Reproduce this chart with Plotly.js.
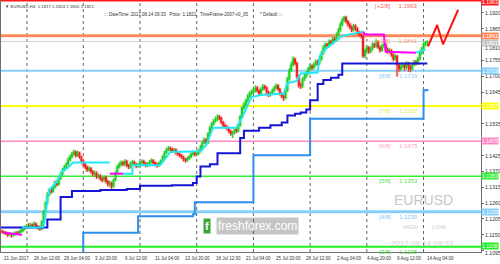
<!DOCTYPE html>
<html><head><meta charset="utf-8">
<script src="https://cdn.plot.ly/plotly-3.0.1.min.js"></script>
<style>html,body{margin:0;padding:0;background:#fff}#chart{width:500px;height:264px}</style>
</head><body><div id="chart"></div>
<script>
// ---- data (prices in pips above 1.1000) ----
const opens = [162,160,158,155,150,153,148,152,157,155,160,163,170,175,180,178,185,182,188,180,175,170,195,230,260,290,305,300,315,330,325,345,360,375,385,395,410,420,430,438,425,435,420,405,395,385,375,380,370,360,365,350,355,345,340,350,335,325,330,318,340,365,385,395,400,395,405,390,385,398,402,395,388,392,400,405,398,390,395,402,408,400,395,390,398,405,420,435,445,450,448,440,445,435,430,425,420,412,408,415,420,430,435,428,432,440,455,470,480,470,500,520,535,545,550,560,555,540,530,525,520,510,500,505,515,510,530,560,590,600,615,630,640,645,650,660,650,640,655,665,660,645,635,640,650,660,668,655,640,630,625,650,690,720,740,760,745,700,670,665,690,700,710,725,735,730,740,750,745,760,780,800,810,805,820,815,830,825,845,860,880,895,905,890,880,870,860,875,865,850,845,840,770,790,800,785,795,810,805,820,800,790,805,810,795,785,790,775,760,770,740,725,735,740,730,745,735,725,740,750,745,760,780,795,810,817];
const closes = [160,158,155,150,153,148,152,157,155,160,163,170,175,180,178,185,182,188,180,175,170,195,230,260,290,305,300,315,330,325,345,360,375,385,395,410,420,430,438,425,435,420,405,395,385,375,380,370,360,365,350,355,345,340,350,335,325,330,318,340,365,385,395,400,395,405,390,385,398,402,395,388,392,400,405,398,390,395,402,408,400,395,390,398,405,420,435,445,450,448,440,445,435,430,425,420,412,408,415,420,430,435,428,432,440,455,470,480,470,500,520,535,545,550,560,555,540,530,525,520,510,500,505,515,510,530,560,590,600,615,630,640,645,650,660,650,640,655,665,660,645,635,640,650,660,668,655,640,630,625,650,690,720,740,760,745,700,670,665,690,700,710,725,735,730,740,750,745,760,780,800,810,805,820,815,830,825,845,860,880,895,905,890,880,870,860,875,865,850,845,840,770,790,800,785,795,810,805,820,800,790,805,810,795,785,790,775,760,770,740,725,735,740,730,745,735,725,740,750,745,760,780,795,810,817,821];
const highs = [168,164,161,158,159,156,157,162,163,166,170,176,181,187,190,192,189,196,192,184,179,200,236,266,298,312,315,322,338,340,352,368,382,392,402,418,428,438,445,442,441,438,424,410,400,390,388,385,375,372,370,362,360,350,356,354,340,338,334,345,370,392,402,408,406,412,410,396,404,410,407,399,398,406,412,410,402,401,409,415,412,405,399,404,411,426,441,452,458,456,452,451,449,440,434,430,424,416,421,426,436,442,440,438,447,462,477,488,485,506,528,542,552,560,568,566,559,545,536,530,524,514,510,520,522,536,566,596,610,622,638,648,654,660,668,666,655,662,673,671,664,650,646,657,666,675,672,660,645,636,656,698,728,750,769,765,750,705,678,696,708,718,732,742,741,748,758,757,768,788,808,818,816,828,826,838,836,852,868,888,902,910,908,895,886,876,882,880,870,858,852,845,796,808,805,802,818,816,828,824,806,812,818,814,800,797,794,780,777,774,745,742,748,745,752,750,740,746,757,756,766,788,802,818,822,824];
const lows = [154,152,149,143,146,140,144,148,150,151,156,160,166,171,172,174,176,178,175,168,164,167,190,225,254,284,292,296,310,318,320,340,355,370,380,390,404,415,425,418,420,414,398,388,378,368,370,363,352,355,344,346,338,332,335,328,318,315,309,314,336,360,380,388,388,390,384,378,380,393,389,381,383,387,396,392,384,385,390,398,394,388,383,386,394,401,416,430,440,441,434,435,428,423,418,414,405,400,403,410,416,425,422,423,427,436,450,465,462,466,495,514,530,540,545,548,534,523,518,512,503,494,486,499,503,506,525,555,584,594,610,624,634,638,644,644,632,636,650,653,638,628,630,636,645,655,650,634,624,615,620,646,685,715,735,738,692,660,656,660,684,694,705,720,722,724,735,738,740,755,775,794,797,800,808,810,818,820,840,855,875,890,884,873,864,853,856,858,844,838,832,765,762,784,778,780,790,798,800,795,783,786,800,788,778,780,768,752,755,698,716,718,728,718,725,716,714,720,735,738,740,755,775,790,804,805];

// indicator lines (bar index, price)
const trendUpIdx1 = [10.6,20,22,23,24,25.4,27,29,30.7,32,34.4,36,37.6,57];
const trendUpPx1  = [1.1175,1.1175,1.1178,1.1217,1.1277,1.1309,1.1320,1.1334,1.1355,1.1373,1.1380,1.1391,1.1401,1.1401];
const trendDnIdx1 = [1,10.6];
const trendDnPx1  = [1.1157,1.1150];
const trendDnIdx2 = [57,64];
const trendDnPx2  = [1.1362,1.1362];
const trendUpIdx2 = [64,69,69,83.6,89,105,108,111.6,122,124,127,132,137,149,151,156,158,167,168,172,176,180,191];
const trendUpPx2  = [1.1362,1.1362,1.1391,1.1391,1.1437,1.1440,1.1461,1.1521,1.1521,1.1521,1.1557,1.1628,1.1635,1.1640,1.1676,1.1684,1.1710,1.1713,1.1769,1.1800,1.1820,1.1840,1.1855];
const trendDnIdx3 = [191,192,202,203,219];
const trendDnPx3  = [1.1855,1.1845,1.1845,1.1785,1.1782];
const trendUpIdx3 = [219,224];
const trendUpPx3  = [1.1782,1.1793];

const donchFastIdx = [-1,24,31,37,52,66,73,90,101,103,105,110,114,126,128,136,142,148,151,155,158,161,163,167,170,174,178,180,225];
const donchFastPx  = [1.1175,1.1203,1.1281,1.1302,1.1305,1.1309,1.1320,1.1322,1.1330,1.1352,1.1387,1.1395,1.1433,1.1486,1.1511,1.1521,1.1530,1.1540,1.1564,1.1570,1.1574,1.1585,1.1617,1.1673,1.1687,1.1695,1.1705,1.1744,1.1744];
const donchSlowIdx = [43,43,72,101,102,133,163,222,223,225];
const donchSlowPx  = [1.1070,1.1157,1.1214,1.1221,1.1263,1.1426,1.1553,1.1553,1.1652,1.1656];

const forecastIdx = [225.4,230.2,233.3,241.3];
const forecastPx  = [1.1804,1.1878,1.1811,1.1931];

// Murrey levels
const levelNames  = ['[+2/8]','[+1/8]','[8/8]','[7/8]','[6/8]','[5/8]','[4/8]','[3/8]'];
const levelPrices = [1.1963,1.1841,1.1719,1.1597,1.1475,1.1353,1.1230,1.1108];
const currentPrice = 1.1821;

// axes
const yTicks = [1.1920,1.1865,1.1810,1.1755,1.1700,1.1645,1.1535,1.1425,1.1370,1.1315,1.1260,1.1205,1.1150,1.1095];
const xLabelIdx = [0,16,32,48,64,80,96,112,128,144,160,176,192,208,224];
const xLabels = ['21 Jun 2017','26 Jun 12:00','29 Jun 04:00','3 Jul 20:00','6 Jul 12:00','11 Jul 04:00','13 Jul 20:00','18 Jul 12:00','21 Jul 04:00','25 Jul 20:00','28 Jul 12:00','2 Aug 04:00','4 Aug 20:00','9 Aug 12:00','14 Aug 04:00'];
const gridIdx = [13.2,43,73,103,133,163,193,223];

// ---- styling ----
const F = 'Liberation Sans, Arial, sans-serif';
const levelColors = ['#ff1a1a','#ff8a5c','#87cefa','#ffff00','#ff88c4','#33ee33','#87cefa','#22ee22'];
const levelWidths = [2,3,2,2,1.5,1.5,3,2];
const levelText   = ['#ff6060','#ff9a70','#8ccff8','#e8e855','#ff9ccf','#55dd55','#7fc6f5','#44dd44'];
const boxShift    = [-1,0,0,0,0,0,0,0.5];

const toP = v => v.map(p => 1.1 + p/10000);
const idx = closes.map((_, i) => i);

const traces = [];
// pale halo behind the candles
traces.push({type:'candlestick', x: idx, open: toP(opens), high: toP(highs), low: toP(lows), close: toP(closes),
  increasing:{line:{color:'rgba(120,230,120,0.45)', width:3}, fillcolor:'rgba(120,230,120,0.45)'},
  decreasing:{line:{color:'rgba(255,140,140,0.45)', width:3}, fillcolor:'rgba(255,140,140,0.45)'},
  whiskerwidth:0, hoverinfo:'skip', showlegend:false});
traces.push({type:'candlestick', x: idx, open: toP(opens), high: toP(highs), low: toP(lows), close: toP(closes),
  increasing:{line:{color:'#1fc81f', width:1}, fillcolor:'#33dd33'},
  decreasing:{line:{color:'#ee1c1c', width:1}, fillcolor:'#ff3030'},
  whiskerwidth:0, hoverinfo:'skip', showlegend:false});
const ln = (x,y,c,w,shape) => ({type:'scatter', mode:'lines', x, y, line:{color:c, width:w, shape: shape||'linear'}, hoverinfo:'skip', showlegend:false});
traces.push(ln(donchSlowIdx, donchSlowPx, '#2e8ff0', 2, 'hv'));
traces.push(ln(donchFastIdx, donchFastPx, '#1515d5', 2, 'hv'));
traces.push(ln(trendDnIdx1, trendDnPx1, '#ff00ff', 2));
traces.push(ln(trendUpIdx1, trendUpPx1, '#22e8f5', 2));
traces.push(ln(trendDnIdx2, trendDnPx2, '#ff00ff', 2));
traces.push(ln(trendUpIdx2, trendUpPx2, '#22e8f5', 2));
traces.push(ln(trendDnIdx3, trendDnPx3, '#ff00ff', 2));
traces.push(ln(trendUpIdx3, trendUpPx3, '#22e8f5', 2));
traces.push(ln(forecastIdx, forecastPx, '#ff1010', 2));

const shapes = [];
gridIdx.forEach(g => shapes.push({type:'line', xref:'x', yref:'paper', x0:g, x1:g, y0:0, y1:1, line:{color:'#606060', width:1, dash:'dot'}, layer:'below'}));
shapes.push({type:'line', xref:'paper', yref:'y', x0:0, x1:1, y0:currentPrice, y1:currentPrice, line:{color:'#cfcfcf', width:1}, layer:'below'});
levelPrices.forEach((p,i) => shapes.push({type:'line', xref:'paper', yref:'y', x0:0, x1:1, y0:p, y1:p, line:{color:levelColors[i], width:levelWidths[i]}, layer:'below'}));

const ann = [];
// right-hand price scale labels (two sit partly under level boxes, as in MT4)
const tickShift = v => (v === 1.1810 ? -3.5 : v === 1.1095 ? -2.8 : 0);
yTicks.forEach(v => ann.push({xref:'paper', yref:'y', x:1, y:v, xanchor:'left', yanchor:'middle', xshift:2, yshift:tickShift(v), showarrow:false,
  text:v.toFixed(4), font:{family:F, size:5.2, color:'#333333'}}));
levelPrices.forEach((p,i) => {
  ann.push({xref:'x', yref:'y', x:221, y:p, xanchor:'right', yanchor:'top', yshift:0, showarrow:false,
    text: levelNames[i] + '&nbsp;&nbsp;&nbsp;&nbsp;&nbsp;' + p.toFixed(4), font:{family:F, size:6, color:levelText[i]}});
  ann.push({xref:'paper', yref:'y', x:1, y:p, xanchor:'left', yanchor:'middle', yshift:boxShift[i], showarrow:false, borderpad:0,
    text: p.toFixed(4), bgcolor: levelColors[i], font:{family:F, size:5.2, color:'#ffffff'}});
});
ann.push({xref:'paper', yref:'y', x:1, y:currentPrice, xanchor:'left', yanchor:'middle', yshift:-1.5, showarrow:false, borderpad:0,
  text: currentPrice.toFixed(4), bgcolor:'#c4c4c4', font:{family:F, size:5.2, color:'#ffffff'}});
xLabels.forEach((t,i) => ann.push({xref:'x', yref:'paper', x:xLabelIdx[i], y:0, xanchor:'left', yanchor:'top', yshift:-1.5, showarrow:false,
  text:t, font:{family:F, size:4.5, color:'#333333'}}));
ann.push({xref:'paper', yref:'paper', x:0.004, y:1, xanchor:'left', yanchor:'top', yshift:-2, showarrow:false,
  text:'▼ EURUSD,H4  1.1817 1.1824 1.1805 1.1821', font:{family:F, size:4.3, color:'#333333'}});
ann.push({xref:'paper', yref:'paper', x:0.21, y:1, xanchor:'left', yanchor:'top', yshift:-10, showarrow:false,
  text:'::: DateTime: 2017.08.14 09:33&nbsp;&nbsp;&nbsp;Price: 1.1821&nbsp;&nbsp;&nbsp;TimeFrame-2007-v0_05', font:{family:F, size:4.5, color:'#333333'}});
ann.push({xref:'paper', yref:'paper', x:0.535, y:1, xanchor:'left', yanchor:'top', yshift:-10, showarrow:false,
  text:'* Default :::', font:{family:F, size:4.5, color:'#333333'}});
ann.push({xref:'x', yref:'paper', x:223, y:0.208, xanchor:'center', yanchor:'middle', showarrow:false,
  text:'EURUSD', font:{family:F, size:14, color:'#c8c8c8'}});
ann.push({xref:'x', yref:'paper', x:216, y:0.099, xanchor:'center', yanchor:'middle', showarrow:false,
  text:'HIGH', font:{family:F, size:6, color:'#cccccc'}});
ann.push({xref:'x', yref:'paper', x:231, y:0.099, xanchor:'center', yanchor:'middle', showarrow:false,
  text:'LOW', font:{family:F, size:6, color:'#cccccc'}});
ann.push({xref:'x', yref:'paper', x:222.5, y:0.032, xanchor:'center', yanchor:'middle', showarrow:false,
  text:'2017.08.14 09:33', font:{family:F, size:8, color:'#d0d0d0'}});
ann.push({xref:'paper', yref:'paper', x:0.5, y:0.105, xanchor:'center', yanchor:'middle', showarrow:false,
  text:'<b>f</b>', bgcolor:'#3aa63a', font:{family:F, size:11, color:'#ffffff'}, xshift:-34, borderpad:1});
ann.push({xref:'paper', yref:'paper', x:0.5, y:0.105, xanchor:'center', yanchor:'middle', showarrow:false,
  text:'freshforex.com', bgcolor:'rgba(90,90,90,0.35)', font:{family:F, size:12, color:'#ffffff'}, xshift:16, borderpad:1});

const layout = {
  width:500, height:264, margin:{l:1, r:19, t:0, b:12},
  paper_bgcolor:'#ffffff', plot_bgcolor:'#ffffff',
  xaxis:{range:[-0.53,253.4], showgrid:false, zeroline:false, showticklabels:false, rangeslider:{visible:false},
    showline:true, linecolor:'#707070', linewidth:1, mirror:true, ticks:'', fixedrange:true},
  yaxis:{range:[1.10902,1.19648], side:'right', tickvals:yTicks, showticklabels:false, showgrid:false, zeroline:false,
    ticks:'outside', ticklen:2, tickcolor:'#707070',
    showline:true, linecolor:'#707070', linewidth:1, mirror:true, fixedrange:true},
  shapes, annotations: ann, showlegend:false
};
Plotly.newPlot('chart', traces, layout, {staticPlot:true, displayModeBar:false});
</script></body></html>
